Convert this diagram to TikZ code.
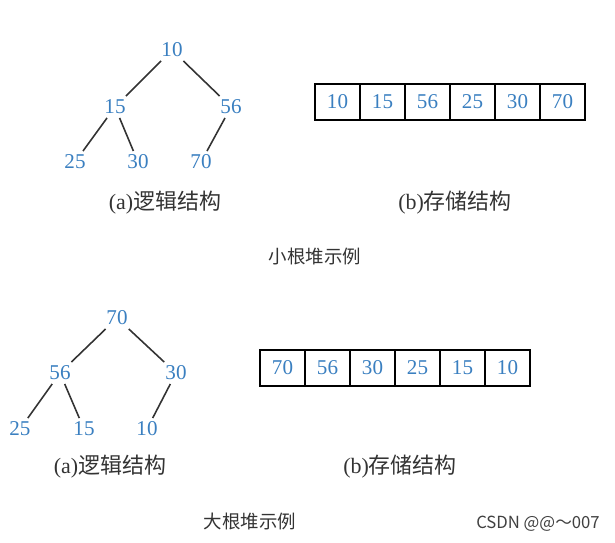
\documentclass[tikz,border=0pt]{standalone}
\usepackage{fontspec}
\setmainfont{Liberation Serif}
\newfontfamily\cjk{Noto Sans CJK SC}
\definecolor{numblue}{HTML}{3A7FC0}
\definecolor{edgegray}{HTML}{333333}
\begin{document}
\begin{tikzpicture}[x=0.02cm,y=-0.02cm,
  num/.style={text=numblue,font=\fontsize{12}{14}\selectfont,inner sep=2pt},
  cell/.style={draw=black,line width=0.8pt,minimum width=0.9cm,minimum height=0.72cm,text=numblue,font=\fontsize{12}{14}\selectfont,inner sep=0pt},
  edge/.style={draw=edgegray,line width=0.9pt},
  lab/.style={font=\fontsize{12.5}{14}\selectfont,text=black!80},
  captext/.style={font=\fontsize{10.5}{12}\selectfont,text=black!80}]
\useasboundingbox (0,0) rectangle (615,542);
% top tree
\node[num] (t10) at (172,50) {10};
\node[num] (t15) at (115,107) {15};
\node[num] (t56) at (231,107) {56};
\node[num] (t25) at (75,162) {25};
\node[num] (t30) at (138,162) {30};
\node[num] (t70) at (201,162) {70};
\draw[edge] (t10) -- (t15); \draw[edge] (t10) -- (t56);
\draw[edge] (t15) -- (t25); \draw[edge] (t15) -- (t30);
\draw[edge] (t56) -- (t70);
% top array
\foreach \v [count=\i] in {10,15,56,25,30,70}
  \node[cell] (a\i) at ({315+45*(\i-0.5)},102) {\v};
\node[lab] (la1) at (165,203) {(a)\cjk 逻辑结构};
\node[lab] (lb1) at (455,203) {(b)\cjk 存储结构};
\node[captext] (cap1) at (315,256) {\cjk 小根堆示例};
% bottom tree
\node[num] (b70) at (117,318) {70};
\node[num] (b56) at (60,373) {56};
\node[num] (b30) at (176,373) {30};
\node[num] (b25) at (20,429) {25};
\node[num] (b15) at (84,429) {15};
\node[num] (b10) at (147,429) {10};
\draw[edge] (b70) -- (b56); \draw[edge] (b70) -- (b30);
\draw[edge] (b56) -- (b25); \draw[edge] (b56) -- (b15);
\draw[edge] (b30) -- (b10);
\foreach \v [count=\i] in {70,56,30,25,15,10}
  \node[cell] (c\i) at ({260+45*(\i-0.5)},368) {\v};
\node[lab] (la2) at (110,467) {(a)\cjk 逻辑结构};
\node[lab] (lb2) at (400,467) {(b)\cjk 存储结构};
\node[captext] (cap2) at (250,521) {\cjk 大根堆示例};
\node[font=\fontsize{9.5}{11}\selectfont,text=black!75] (wm) at (538,524) {\cjk CSDN @@～007};
\end{tikzpicture}
\end{document}
